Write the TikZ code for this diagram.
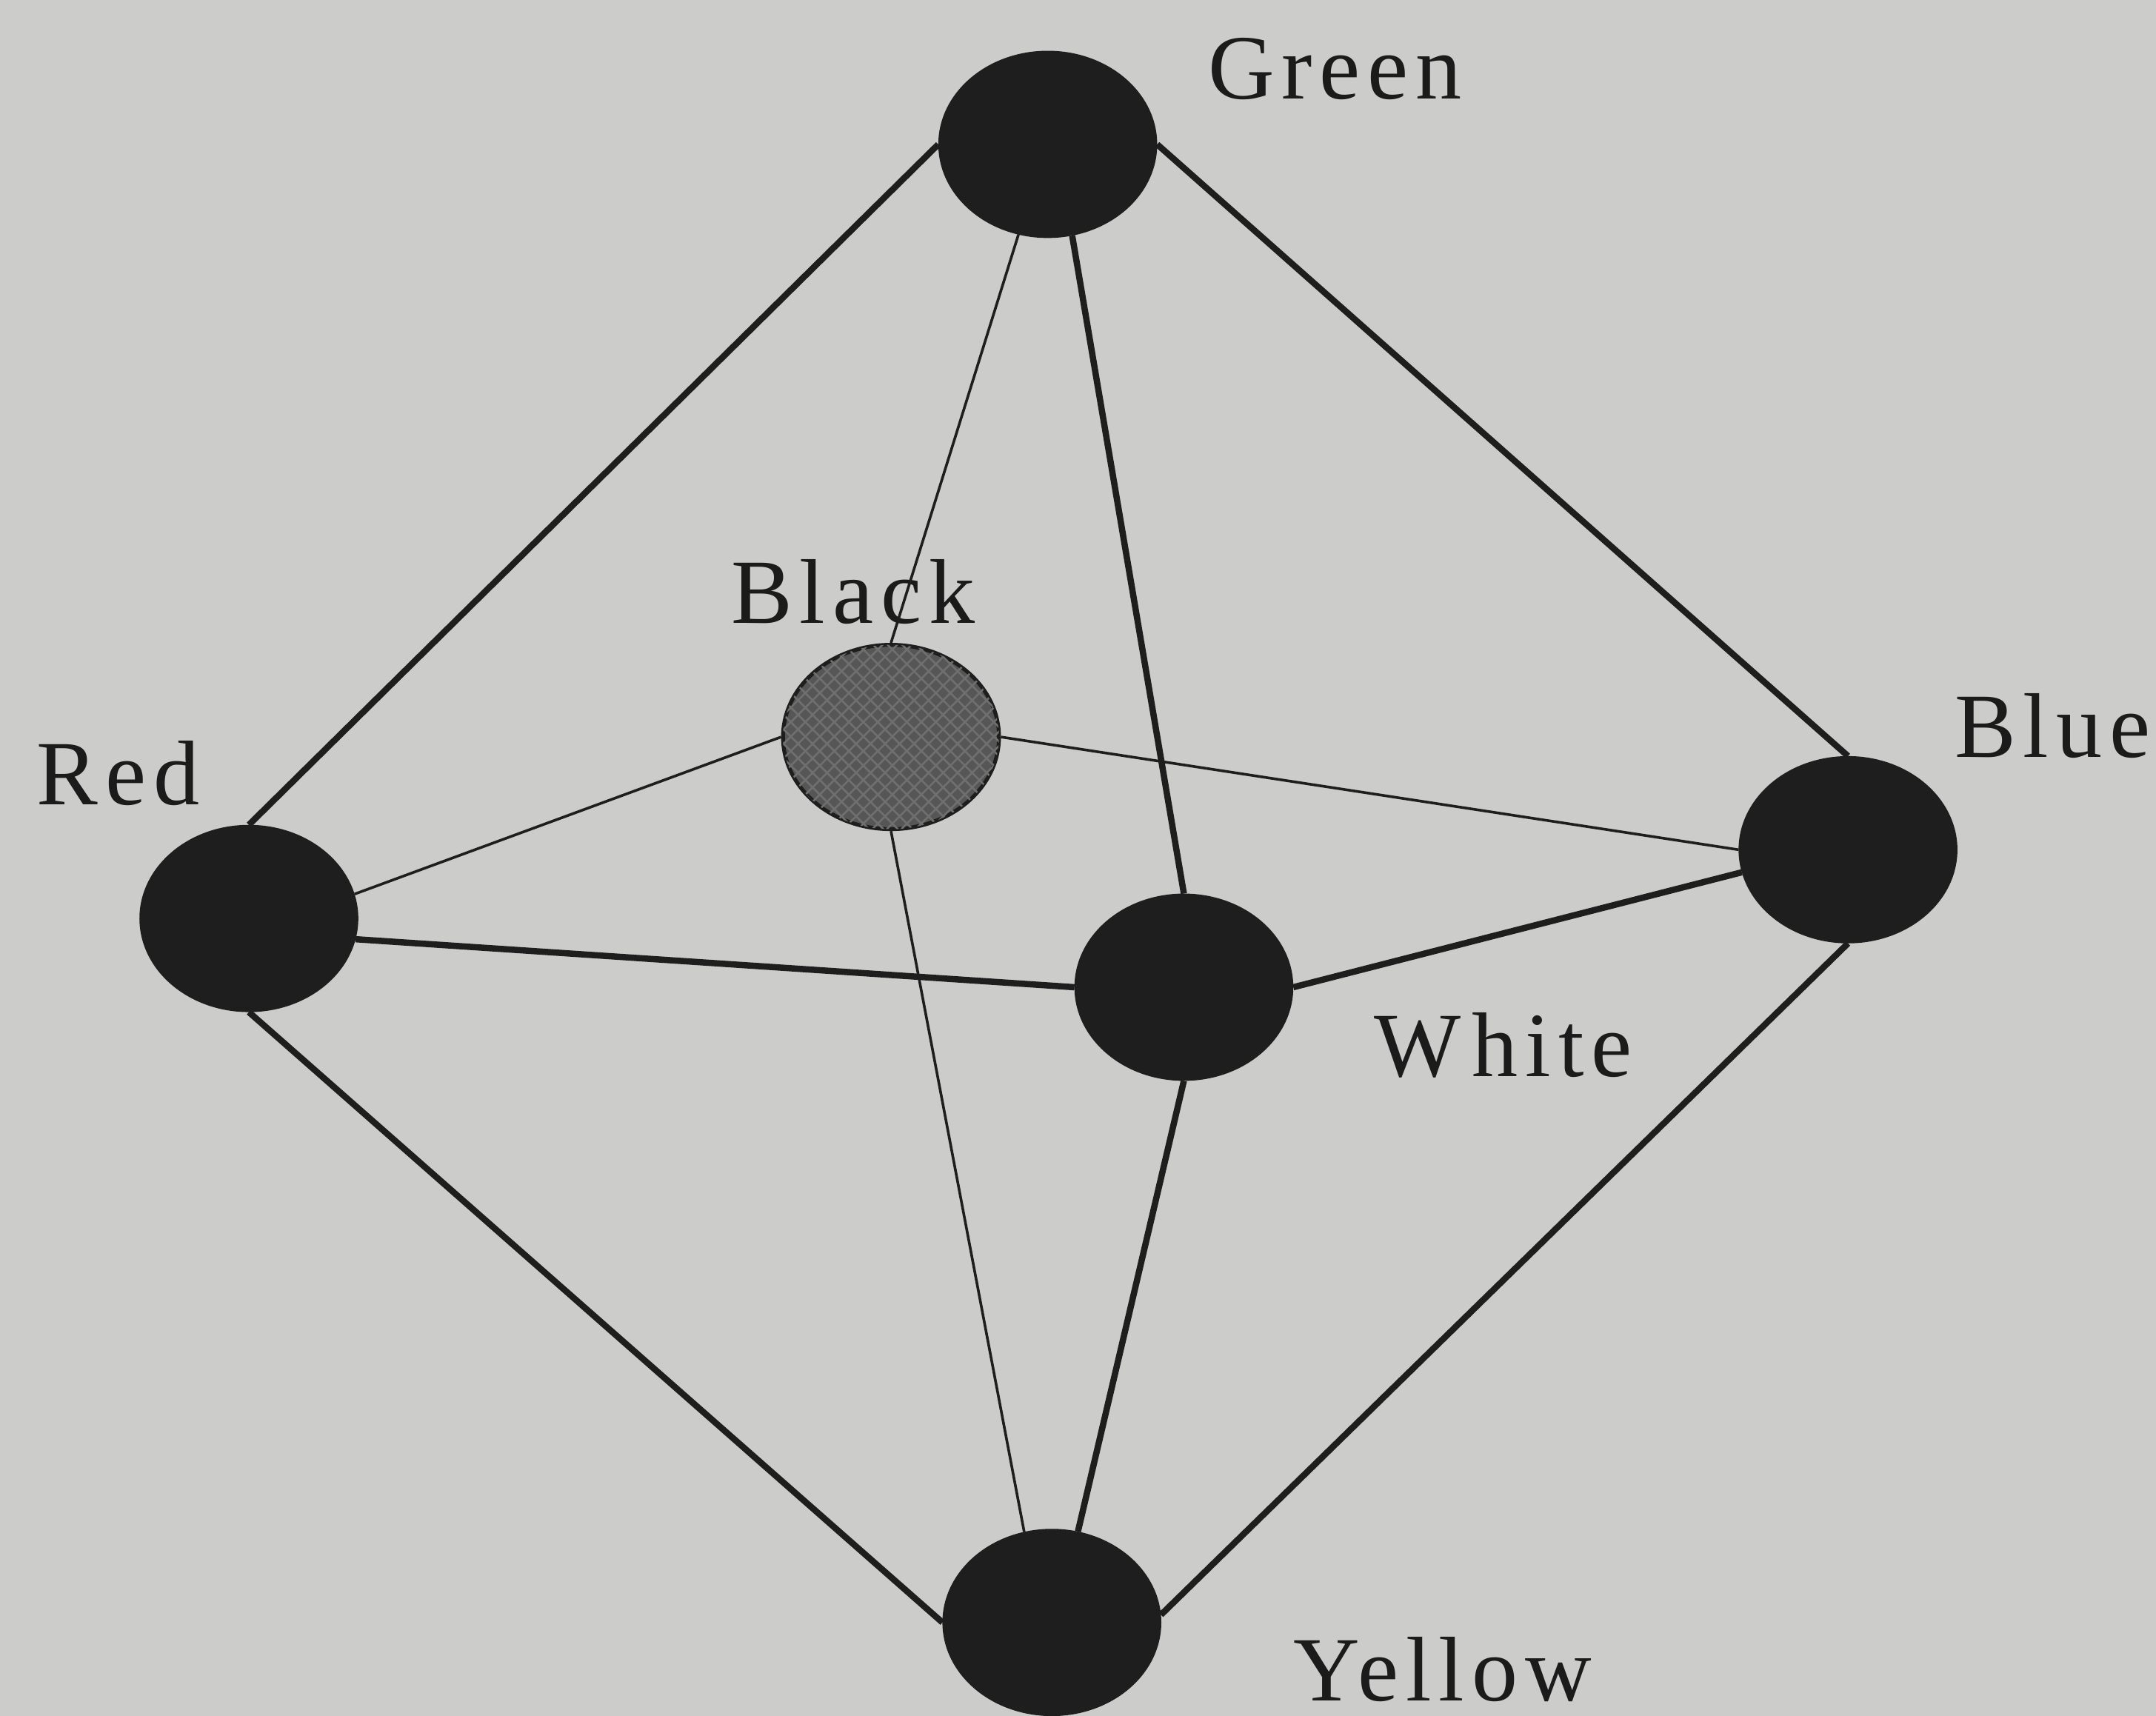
\documentclass[tikz,border=0pt]{standalone}
\usepackage{fontspec}
\setmainfont{Liberation Serif}[LetterSpace=8]
\usetikzlibrary{shapes.geometric,patterns}
\definecolor{bg}{RGB}{204,205,203}
\definecolor{ink}{RGB}{30,30,30}
\definecolor{graynode}{RGB}{86,86,86}
\begin{document}
\begin{tikzpicture}[x=0.01cm,y=-0.01cm,
  vertex/.style={ellipse, fill=ink, draw=ink, line width=0.6pt, minimum width=1.57cm, minimum height=1.34cm, inner sep=0pt},
  hub/.style={vertex, fill=graynode, line width=0.8pt, postaction={pattern=crosshatch, pattern color=graynode!85!white}},
  thickedge/.style={draw=ink, line width=1.3pt},
  thinedge/.style={draw=ink, line width=0.55pt},
  lbl/.style={anchor=base west, inner sep=0pt, text=ink!90!black, font=\fontsize{19}{22}\selectfont}]
\fill[bg] (0,0) rectangle (1568,1248);
\useasboundingbox (0,0) rectangle (1568,1248);
\clip (0,0) rectangle (1568,1248);
% vertices
\node[vertex] (green) at (762,105) {};
\node[hub] (black) at (648,536) {};
\node[vertex] (red) at (181,668) {};
\node[vertex] (white) at (861,718) {};
\node[vertex] (blue) at (1344,618) {};
\node[vertex] (yellow) at (765,1180) {};
% labels
\node[lbl] (lgreen) at (878,72) {Green};
\node[lbl] (lblack) at (531,453) {Black};
\node[lbl] (lred) at (26,585) {Red};
\node[lbl] (lblue) at (1421,551) {Blue};
\node[lbl] (lwhite) at (999,783) {W\kern0.12em hite};
\node[lbl] (lyellow) at (940,1237) {Yellow};
% thick connectors
\draw[thickedge] (green.west) -- (red.north);
\draw[thickedge] (green.east) -- (blue.north);
\draw[thickedge] (green.285) -- (white.north);
\draw[thickedge] (red.349) -- (white.west);
\draw[thickedge] (red.south) -- (yellow.west);
\draw[thickedge] (blue.south) -- (yellow.4);
\draw[thickedge] (white.east) -- (blue.192);
\draw[thickedge] (white.south) -- (yellow.74);
% thin connectors
\draw[thinedge] (green.252) -- (black.north);
\draw[thinedge] (red.13) -- (black.west);
\draw[thinedge] (black.east) -- (blue.west);
\draw[thinedge] (black.south) -- (yellow.107);
\end{tikzpicture}
\end{document}
